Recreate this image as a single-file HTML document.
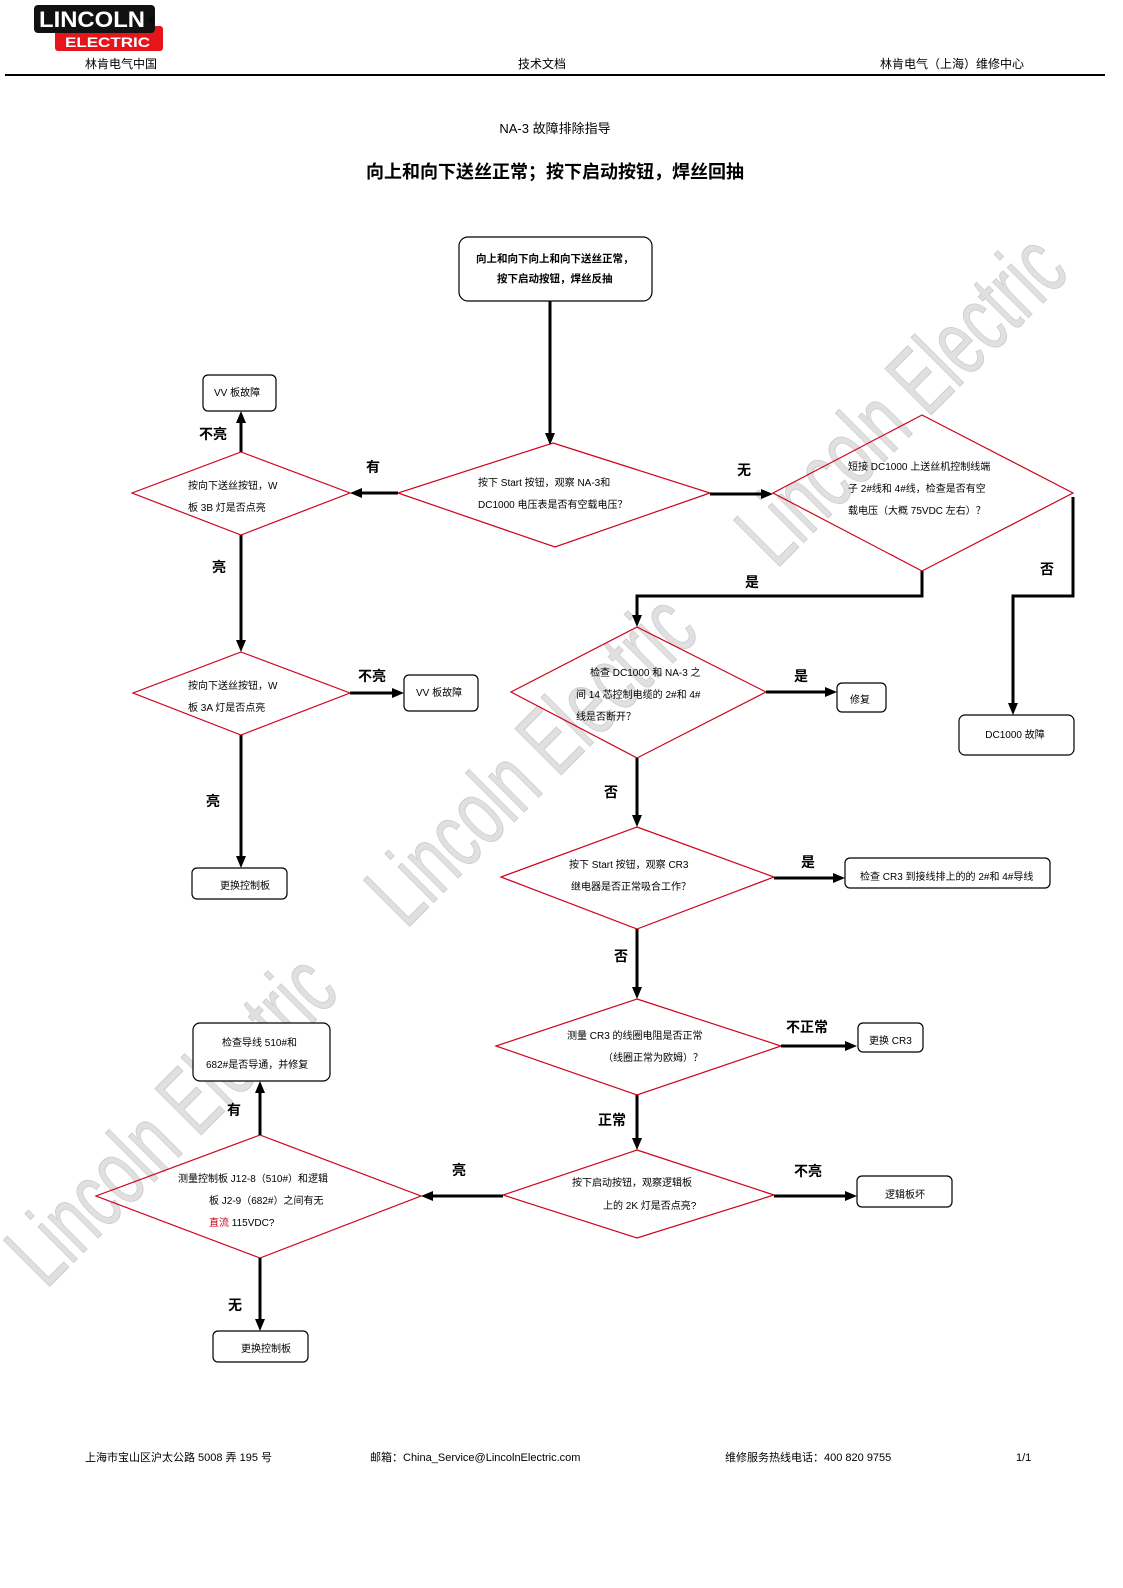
<!DOCTYPE html>
<html>
<head>
<meta charset="utf-8">
<style>
html,body{margin:0;padding:0;background:#fff;}
svg{display:block;}
text{font-family:"Liberation Sans","Noto Sans CJK SC",sans-serif;}
.n{font-size:10px;fill:#000;}
.b{font-size:10.5px;font-weight:bold;fill:#000;}
.l{font-size:14px;font-weight:bold;fill:#000;}
.h{font-size:12px;fill:#000;}
.f{font-size:11px;fill:#000;}
.wm{font-family:"Liberation Sans Narrow","Liberation Sans",sans-serif;font-size:95px;fill:#e0e0e0;stroke:#cdcdcd;stroke-width:1;}
.dm{fill:none;stroke:#d0021b;stroke-width:1.2;}
.bx{fill:#fff;stroke:#000;stroke-width:1.2;}
.ln{fill:none;stroke:#000;stroke-width:3;}
</style>
</head>
<body>
<svg width="1123" height="1588" viewBox="0 0 1123 1588" xmlns="http://www.w3.org/2000/svg">
<rect x="0" y="0" width="1123" height="1588" fill="#fff"/>

<!-- watermarks -->
<text class="wm" transform="translate(776,570) rotate(-45)" textLength="418" lengthAdjust="spacingAndGlyphs">Lincoln Electric</text>
<text class="wm" transform="translate(406,930) rotate(-45)" textLength="418" lengthAdjust="spacingAndGlyphs">Lincoln Electric</text>
<text class="wm" transform="translate(46,1290) rotate(-45)" textLength="418" lengthAdjust="spacingAndGlyphs">Lincoln Electric</text>

<!-- logo -->
<rect x="55" y="26" width="108" height="25" rx="3" fill="#e8141c"/>
<rect x="34" y="5" width="121" height="28" rx="4" fill="#111"/>
<text x="39" y="27" style="font-size:22px;font-weight:bold;fill:#fff" textLength="106" lengthAdjust="spacingAndGlyphs">LINCOLN</text>
<text x="65" y="47" style="font-size:14px;font-weight:bold;fill:#fff" textLength="85" lengthAdjust="spacingAndGlyphs">ELECTRIC</text>
<text x="148" y="23" style="font-size:9px;fill:#000">®</text>

<!-- header -->
<text class="h" x="121" y="68" text-anchor="middle">林肯电气中国</text>
<text class="h" x="542" y="68" text-anchor="middle">技术文档</text>
<text class="h" x="952" y="68" text-anchor="middle">林肯电气（上海）维修中心</text>
<rect x="5" y="74" width="1100" height="2" fill="#000"/>

<text x="555" y="133" text-anchor="middle" style="font-size:13px">NA-3 故障排除指导</text>
<text x="555" y="178" text-anchor="middle" style="font-size:18px;font-weight:bold">向上和向下送丝正常；按下启动按钮，焊丝回抽</text>

<!-- start box -->
<rect class="bx" x="459" y="237" width="193" height="64" rx="9"/>
<text class="b" x="476" y="262">向上和向下向上和向下送丝正常，</text>
<text class="b" x="497" y="282">按下启动按钮，焊丝反抽</text>

<!-- diamonds -->
<polygon class="dm" points="553,443 710,493 555,547 398,493"/>
<text class="n" x="478" y="486">按下 Start 按钮，观察 NA-3和</text>
<text class="n" x="478" y="508">DC1000 电压表是否有空载电压？</text>

<polygon class="dm" points="241,452 350,493 241,535 132,493"/>
<text class="n" x="188" y="489">按向下送丝按钮，W</text>
<text class="n" x="188" y="511">板 3B 灯是否点亮</text>

<polygon class="dm" points="241,652 350,693 241,735 133,693"/>
<text class="n" x="188" y="689">按向下送丝按钮，W</text>
<text class="n" x="188" y="711">板 3A 灯是否点亮</text>

<polygon class="dm" points="922,415 1073,493 922,571 773,493"/>
<text class="n" x="848" y="470">短接 DC1000 上送丝机控制线端</text>
<text class="n" x="848" y="492">子 2#线和 4#线，检查是否有空</text>
<text class="n" x="848" y="514">载电压（大概 75VDC 左右）？</text>

<polygon class="dm" points="637,627 766,692 637,758 511,692"/>
<text class="n" x="590" y="676">检查 DC1000 和 NA-3 之</text>
<text class="n" x="576" y="698">间 14 芯控制电缆的 2#和 4#</text>
<text class="n" x="576" y="720">线是否断开？</text>

<polygon class="dm" points="637,827 774,877 637,929 501,877"/>
<text class="n" x="569" y="868">按下 Start 按钮，观察 CR3</text>
<text class="n" x="571" y="890">继电器是否正常吸合工作？</text>

<polygon class="dm" points="637,999 781,1046 637,1095 496,1046"/>
<text class="n" x="567" y="1039">测量 CR3 的线圈电阻是否正常</text>
<text class="n" x="603" y="1061">（线圈正常为欧姆）？</text>

<polygon class="dm" points="637,1150 774,1195 637,1238 503,1195"/>
<text class="n" x="572" y="1186">按下启动按钮，观察逻辑板</text>
<text class="n" x="603" y="1209">上的 2K 灯是否点亮?</text>

<polygon class="dm" points="260,1135 421,1196 260,1258 96,1196"/>
<text class="n" x="178" y="1182">测量控制板 J12-8（510#）和逻辑</text>
<text class="n" x="209" y="1204">板 J2-9（682#）之间有无</text>
<text class="n" x="209" y="1226"><tspan fill="#d0021b">直流</tspan> 115VDC?</text>

<!-- boxes -->
<rect class="bx" x="203" y="375" width="73" height="36" rx="5"/>
<text class="n" x="214" y="396">VV 板故障</text>

<rect class="bx" x="404" y="675" width="74" height="36" rx="5"/>
<text class="n" x="416" y="696">VV 板故障</text>

<rect class="bx" x="192" y="868" width="95" height="31" rx="5"/>
<text class="n" x="220" y="889">更换控制板</text>

<rect class="bx" x="959" y="715" width="115" height="40" rx="6"/>
<text class="n" x="1015" y="738" text-anchor="middle">DC1000 故障</text>

<rect class="bx" x="837" y="683" width="49" height="29" rx="5"/>
<text class="n" x="850" y="703">修复</text>

<rect class="bx" x="845" y="858" width="205" height="30" rx="5"/>
<text class="n" x="860" y="880">检查 CR3 到接线排上的的 2#和 4#导线</text>

<rect class="bx" x="858" y="1023" width="65" height="29" rx="5"/>
<text class="n" x="869" y="1044">更换 CR3</text>

<rect class="bx" x="857" y="1176" width="95" height="31" rx="5"/>
<text class="n" x="885" y="1198">逻辑板坏</text>

<rect class="bx" x="193" y="1023" width="137" height="58" rx="7"/>
<text class="n" x="222" y="1046">检查导线 510#和</text>
<text class="n" x="206" y="1068">682#是否导通，并修复</text>

<rect class="bx" x="213" y="1331" width="95" height="31" rx="5"/>
<text class="n" x="241" y="1352">更换控制板</text>

<!-- connectors -->
<g>
<line class="ln" x1="550" y1="301" x2="550" y2="435"/><polygon points="545,433 555,433 550,445"/>
<line class="ln" x1="398" y1="493" x2="360" y2="493"/><polygon points="362,488 362,498 350,493"/>
<line class="ln" x1="241" y1="452" x2="241" y2="421"/><polygon points="236,423 246,423 241,411"/>
<line class="ln" x1="241" y1="535" x2="241" y2="642"/><polygon points="236,640 246,640 241,652"/>
<line class="ln" x1="350" y1="693" x2="394" y2="693"/><polygon points="392,688 392,698 404,693"/>
<line class="ln" x1="241" y1="735" x2="241" y2="858"/><polygon points="236,856 246,856 241,868"/>
<line class="ln" x1="710" y1="494" x2="763" y2="494"/><polygon points="761,489 761,499 773,494"/>
<polyline class="ln" points="922,571 922,596 637,596 637,617"/><polygon points="632,615 642,615 637,627"/>
<polyline class="ln" points="1073,497 1073,596 1013,596 1013,705"/><polygon points="1008,703 1018,703 1013,715"/>
<line class="ln" x1="766" y1="692" x2="827" y2="692"/><polygon points="825,687 825,697 837,692"/>
<line class="ln" x1="637" y1="758" x2="637" y2="817"/><polygon points="632,815 642,815 637,827"/>
<line class="ln" x1="774" y1="878" x2="835" y2="878"/><polygon points="833,873 833,883 845,878"/>
<line class="ln" x1="637" y1="929" x2="637" y2="989"/><polygon points="632,987 642,987 637,999"/>
<line class="ln" x1="781" y1="1046" x2="847" y2="1046"/><polygon points="845,1041 845,1051 857,1046"/>
<line class="ln" x1="637" y1="1095" x2="637" y2="1140"/><polygon points="632,1138 642,1138 637,1150"/>
<line class="ln" x1="774" y1="1196" x2="847" y2="1196"/><polygon points="845,1191 845,1201 857,1196"/>
<line class="ln" x1="503" y1="1196" x2="431" y2="1196"/><polygon points="433,1191 433,1201 421,1196"/>
<line class="ln" x1="260" y1="1135" x2="260" y2="1091"/><polygon points="255,1093 265,1093 260,1081"/>
<line class="ln" x1="260" y1="1258" x2="260" y2="1321"/><polygon points="255,1319 265,1319 260,1331"/>
</g>

<!-- connector labels -->
<text class="l" x="373" y="472" text-anchor="middle">有</text>
<text class="l" x="213" y="439" text-anchor="middle">不亮</text>
<text class="l" x="219" y="572" text-anchor="middle">亮</text>
<text class="l" x="372" y="681" text-anchor="middle">不亮</text>
<text class="l" x="213" y="806" text-anchor="middle">亮</text>
<text class="l" x="744" y="475" text-anchor="middle">无</text>
<text class="l" x="752" y="587" text-anchor="middle">是</text>
<text class="l" x="1047" y="574" text-anchor="middle">否</text>
<text class="l" x="801" y="681" text-anchor="middle">是</text>
<text class="l" x="611" y="797" text-anchor="middle">否</text>
<text class="l" x="808" y="867" text-anchor="middle">是</text>
<text class="l" x="621" y="961" text-anchor="middle">否</text>
<text class="l" x="807" y="1032" text-anchor="middle">不正常</text>
<text class="l" x="612" y="1125" text-anchor="middle">正常</text>
<text class="l" x="808" y="1176" text-anchor="middle">不亮</text>
<text class="l" x="459" y="1175" text-anchor="middle">亮</text>
<text class="l" x="234" y="1115" text-anchor="middle">有</text>
<text class="l" x="235" y="1310" text-anchor="middle">无</text>

<!-- footer -->
<text class="f" x="85" y="1461">上海市宝山区沪太公路 5008 弄 195 号</text>
<text class="f" x="370" y="1461">邮箱：China_Service@LincolnElectric.com</text>
<text class="f" x="725" y="1461">维修服务热线电话：400 820 9755</text>
<text class="f" x="1016" y="1461">1/1</text>
</svg>
</body>
</html>
